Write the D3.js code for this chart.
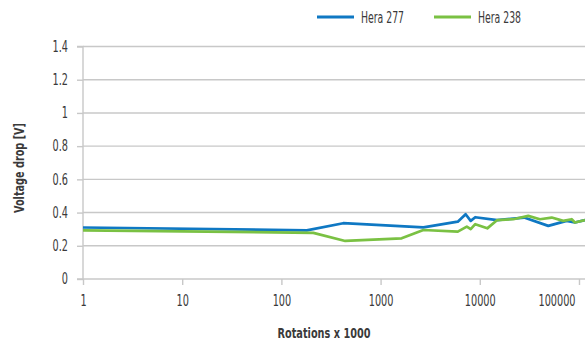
<!DOCTYPE html>
<html>
<head>
<meta charset="utf-8">
<script src="https://cdn.jsdelivr.net/npm/d3@7"></script>
<style>
  html, body { margin: 0; padding: 0; background: #fff; }
  svg { display: block; }
  text { font-family: "DejaVu Sans Condensed", "Liberation Sans Narrow", sans-serif; fill: #3a3a3a; }
</style>
</head>
<body>
<svg id="chart" width="585" height="342"></svg>
<script>
// ---- data ----
const seriesNames = ["Hera 277", "Hera 238"];
const seriesColors = ["#0f78c3", "#7ac143"];

const hera277X = [1, 180, 420, 2700, 6000, 7200, 8100, 9000, 15000, 28000, 49000, 75000, 91000, 115000];
const hera277Y = [0.31, 0.293, 0.336, 0.311, 0.345, 0.39, 0.35, 0.372, 0.355, 0.37, 0.32, 0.35, 0.34, 0.355];

const hera238X = [1, 210, 440, 1630, 2700, 6000, 7400, 8100, 9000, 11900, 15000, 21800, 30800, 40400, 53100, 69500, 84400, 91000, 115000];
const hera238Y = [0.293, 0.278, 0.229, 0.245, 0.295, 0.285, 0.315, 0.30, 0.33, 0.305, 0.355, 0.36, 0.38, 0.36, 0.37, 0.35, 0.36, 0.34, 0.355];

const xTicks = [1, 10, 100, 1000, 10000, 100000];
const yTicks = [0, 0.2, 0.4, 0.6, 0.8, 1, 1.2, 1.4];

const xTitle = "Rotations x 1000";
const yTitle = "Voltage drop [V]";

// ---- layout ----
const svg = d3.select("#chart");
const mLeft = 83, mRight = 585, mTop = 46.5, mBottom = 279;

const x = d3.scaleLog().domain([1, 115000]).range([mLeft, mRight]);
const y = d3.scaleLinear().domain([0, 1.4]).range([mBottom, mTop]);

const gridColor = "#c8c8c8";
const sx = 0.72; // horizontal condensing to mimic the narrow font

// horizontal gridlines
svg.append("g").selectAll("line").data(yTicks.filter(d => d > 0)).join("line")
  .attr("x1", mLeft).attr("x2", mRight)
  .attr("y1", d => y(d)).attr("y2", d => y(d))
  .attr("stroke", gridColor).attr("stroke-width", 1.4);

// y axis
const yAxis = d3.axisLeft(y).tickValues(yTicks).tickSize(6).tickPadding(9)
  .tickFormat(d => d3.format("~g")(d));
const gy = svg.append("g").attr("transform", `translate(${mLeft},0)`).call(yAxis)
  .attr("font-family", null);
gy.select(".domain").attr("stroke", gridColor).attr("stroke-width", 1.4).attr("d", `M-6,${mTop}H0V${mBottom}`);
gy.selectAll(".tick line").attr("stroke", gridColor).attr("stroke-width", 1.4);
gy.selectAll(".tick text").attr("font-size", 15).attr("fill", "#3a3a3a")
  .attr("x", -15 / sx).attr("transform", `scale(${sx},1)`);

// x axis
const xAxis = d3.axisBottom(x).tickValues(xTicks).tickSize(6).tickPadding(10)
  .tickFormat(d => String(d));
const gx = svg.append("g").attr("transform", `translate(0,${mBottom})`).call(xAxis)
  .attr("font-family", null);
gx.select(".domain").attr("stroke", gridColor).attr("stroke-width", 1.4).attr("d", `M${mLeft - 6},0H${mRight}`);
gx.selectAll(".tick line").attr("stroke", gridColor).attr("stroke-width", 1.4);
gx.selectAll(".tick text").attr("font-size", 15).attr("fill", "#3a3a3a")
  .attr("transform", `scale(${sx},1)`);
gx.selectAll(".tick text").filter(d => d === 100000).attr("text-anchor", "end").attr("x", -4 / sx);

// lines
const line = d3.line().x(d => x(d[0])).y(d => y(d[1]));
const series = [
  d3.zip(hera277X, hera277Y),
  d3.zip(hera238X, hera238Y)
];
svg.append("g").selectAll("path").data(series).join("path")
  .attr("d", line)
  .attr("fill", "none")
  .attr("stroke", (d, i) => seriesColors[i])
  .attr("stroke-width", 2.7)
  .attr("stroke-linejoin", "round");

// axis titles
svg.append("text").attr("x", 324).attr("y", 338).attr("text-anchor", "middle")
  .attr("font-size", 14.5).attr("font-weight", "bold")
  .attr("textLength", 93).attr("lengthAdjust", "spacingAndGlyphs").text(xTitle);
svg.append("text").attr("transform", "translate(24,168) rotate(-90)").attr("text-anchor", "middle")
  .attr("font-size", 14.5).attr("font-weight", "bold")
  .attr("textLength", 90).attr("lengthAdjust", "spacingAndGlyphs").text(yTitle);

// legend
const legendX = [317, 434];
const lg = svg.append("g").selectAll("g").data(seriesNames).join("g")
  .attr("transform", (d, i) => `translate(${legendX[i]},17)`);
lg.append("line").attr("x1", 0).attr("x2", 37).attr("y1", 0).attr("y2", 0)
  .attr("stroke", (d, i) => seriesColors[i]).attr("stroke-width", 3);
lg.append("text").attr("x", 44).attr("y", 5.5).attr("font-size", 15)
  .attr("textLength", 43).attr("lengthAdjust", "spacingAndGlyphs").text(d => d);
</script>
</body>
</html>
